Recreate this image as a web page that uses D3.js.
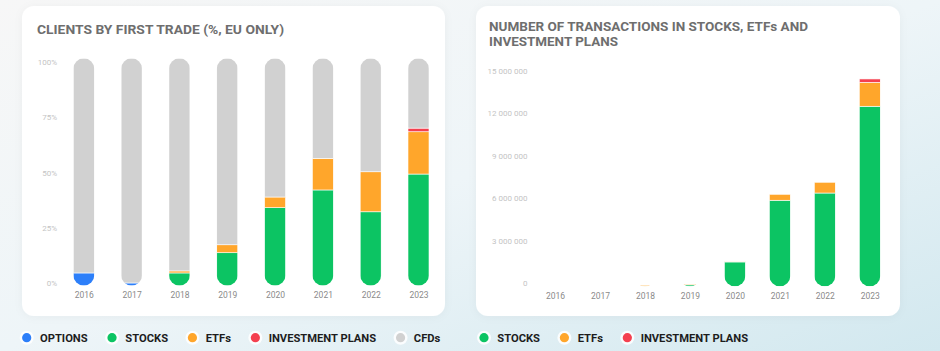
<!DOCTYPE html>
<html>
<head>
<meta charset="utf-8">
<script src="https://cdn.jsdelivr.net/npm/d3@7"></script>
<style>
  html, body { margin: 0; padding: 0; }
  body { width: 940px; height: 351px; overflow: hidden; font-family: Roboto, sans-serif; }
</style>
</head>
<body>
<div id="chart"></div>
<script>
// ---- data ----
var years = ["2016", "2017", "2018", "2019", "2020", "2021", "2022", "2023"];

// clients by first trade, % (EU only)
var shareOptions = [5.6, 1.2, 0, 0, 0, 0, 0, 0];
var shareStocks  = [0, 0, 5.6, 14.5, 34.3, 42.1, 32.5, 49.1];
var shareEtfs    = [0, 0, 0.9, 3.5, 4.7, 13.9, 17.6, 18.6];
var sharePlans   = [0, 0, 0, 0, 0, 0, 0, 1.6];
var shareCfds    = [94.4, 98.8, 93.5, 82.0, 61.0, 44.0, 49.9, 30.7];
var shareTicks   = [0, 25, 50, 75, 100];

// number of transactions
var txStocks = [0, 0, 5000, 100000, 1720000, 6080000, 6590000, 12720000];
var txEtfs   = [0, 0, 70000, 60000, 50000, 420000, 760000, 1690000];
var txPlans  = [0, 0, 0, 0, 0, 0, 0, 240000];
var txTicks  = [0, 3000000, 6000000, 9000000, 12000000, 15000000];

var colors = {
  options: "#2d7ff9",
  stocks: "#0cc463",
  etfs: "#ffa62b",
  plans: "#f4404f",
  cfds: "#d1d1d1"
};

var legendLeft = [
  {name: "OPTIONS", key: "options"},
  {name: "STOCKS", key: "stocks"},
  {name: "ETFs", key: "etfs"},
  {name: "INVESTMENT PLANS", key: "plans"},
  {name: "CFDs", key: "cfds"}
];
var legendRight = [
  {name: "STOCKS", key: "stocks"},
  {name: "ETFs", key: "etfs"},
  {name: "INVESTMENT PLANS", key: "plans"}
];

var W = 940, H = 351, barW = 21, r = barW / 2;

var svg = d3.select("#chart").append("svg")
    .attr("width", W)
    .attr("height", H);

var defs = svg.append("defs");

var bg = defs.append("linearGradient")
    .attr("id", "bg")
    .attr("x1", 0).attr("y1", 0).attr("x2", 1).attr("y2", 1);
bg.append("stop").attr("offset", "0").attr("stop-color", "#f7f7f7");
bg.append("stop").attr("offset", "0.5").attr("stop-color", "#eef5f8");
bg.append("stop").attr("offset", "1").attr("stop-color", "#d2e8ef");

var shadow = defs.append("filter").attr("id", "shadow")
    .attr("x", "-10%").attr("y", "-10%").attr("width", "120%").attr("height", "120%");
shadow.append("feDropShadow")
    .attr("dx", 0).attr("dy", 1)
    .attr("stdDeviation", 4)
    .attr("flood-color", "#000")
    .attr("flood-opacity", 0.04);

svg.append("rect")
    .attr("width", W).attr("height", H)
    .attr("fill", "url(#bg)");

// cards
svg.append("rect")
    .attr("x", 22).attr("y", 6).attr("width", 423).attr("height", 310)
    .attr("rx", 12).attr("fill", "#fff").attr("filter", "url(#shadow)");
svg.append("rect")
    .attr("x", 476).attr("y", 6).attr("width", 424).attr("height", 310)
    .attr("rx", 12).attr("fill", "#fff").attr("filter", "url(#shadow)");

// titles
function title(text, x, y, len) {
  svg.append("text")
      .attr("x", x).attr("y", y)
      .attr("font-family", "Roboto, sans-serif")
      .attr("font-weight", 700)
      .attr("font-size", 13.2)
      .attr("fill", "#6e6e6e")
      .attr("textLength", len)
      .attr("lengthAdjust", "spacingAndGlyphs")
      .text(text);
}
title("CLIENTS BY FIRST TRADE (%, EU ONLY)", 37, 34.3, 247);
title("NUMBER OF TRANSACTIONS IN STOCKS, ETFs AND", 489, 31, 319);
title("INVESTMENT PLANS", 489, 45.7, 129);

function styleAxis(g, size, color) {
  g.select(".domain").remove();
  g.selectAll("text")
      .attr("font-family", "Roboto, sans-serif")
      .attr("font-size", size)
      .attr("fill", color);
}

// stacked capsule bars; clip defines rounded shape, segments fill it
function drawStack(id, x, y, series, topY, roundTop) {
  var g = svg.append("g");
  years.forEach(function(yr, i) {
    var cx = x(yr), bottom = y(0);
    var cp = defs.append("clipPath").attr("id", id + i);
    if (roundTop) {
      cp.append("rect")
          .attr("x", cx - r).attr("y", topY)
          .attr("width", barW).attr("height", bottom - topY)
          .attr("rx", r).attr("ry", r);
    } else {
      cp.append("path")
          .attr("d", "M" + (cx - r) + "," + topY +
                     "V" + (bottom - r) +
                     "A" + r + "," + r + " 0 0 0 " + (cx + r) + "," + (bottom - r) +
                     "V" + topY + "Z");
    }
    var bar = g.append("g").attr("clip-path", "url(#" + id + i + ")");
    var cum = 0;
    series.forEach(function(s) {
      var v = s.values[i];
      if (v <= 0) return;
      bar.append("rect")
          .attr("x", cx - r)
          .attr("y", y(cum + v))
          .attr("width", barW)
          .attr("height", y(cum) - y(cum + v))
          .attr("fill", colors[s.key])
          .attr("stroke", "#fff")
          .attr("stroke-width", 0.6);
      cum += v;
    });
  });
}

// ---- left chart ----
var xL = d3.scalePoint().domain(years).range([83.8, 418.5]);
var yL = d3.scaleLinear().domain([0, 100]).range([285.7, 58.3]);
var yLabL = d3.scaleLinear().domain([0, 100]).range([283, 62]);

svg.append("g")
    .attr("transform", "translate(57,0)")
    .call(d3.axisLeft(yLabL).tickValues(shareTicks).tickSize(0).tickPadding(0)
      .tickFormat(function(d) { return d + "%"; }))
    .call(styleAxis, 8, "#c4c4c4");

drawStack("cl", xL, yL, [
  {key: "options", values: shareOptions},
  {key: "stocks", values: shareStocks},
  {key: "etfs", values: shareEtfs},
  {key: "plans", values: sharePlans},
  {key: "cfds", values: shareCfds}
], yL(100), true);

svg.append("g")
    .attr("transform", "translate(0,292.3)")
    .call(d3.axisBottom(xL).tickSize(0).tickPadding(0))
    .call(styleAxis, 8.5, "#8a8a8a");

// ---- right chart ----
var xR = d3.scalePoint().domain(years).range([555, 869.8]);
var yR = d3.scaleLinear().domain([0, 15000000]).range([286.3, 74]);
var yLabR = d3.scaleLinear().domain([0, 15000000]).range([283, 70.7]);

svg.append("g")
    .attr("transform", "translate(527.5,0)")
    .call(d3.axisLeft(yLabR).tickValues(txTicks).tickSize(0).tickPadding(0)
      .tickFormat(function(d) { return d3.format(",")(d).replace(/,/g, " "); }))
    .call(styleAxis, 8, "#c4c4c4");

drawStack("tx", xR, yR, [
  {key: "stocks", values: txStocks},
  {key: "etfs", values: txEtfs},
  {key: "plans", values: txPlans}
], 60, false);

svg.append("g")
    .attr("transform", "translate(0,292.8)")
    .call(d3.axisBottom(xR).tickSize(0).tickPadding(0))
    .call(styleAxis, 8.5, "#8a8a8a");

// ---- legends ----
function legend(items, startX, y) {
  var cx = startX;
  items.forEach(function(it) {
    var g = svg.append("g");
    g.append("circle").attr("cx", cx).attr("cy", y).attr("r", 7).attr("fill", "#fff").attr("opacity", 0.85);
    g.append("circle").attr("cx", cx).attr("cy", y).attr("r", 4.6).attr("fill", colors[it.key]);
    var t = g.append("text")
        .attr("x", cx + 13.3).attr("y", y)
        .attr("dy", "0.36em")
        .attr("font-family", "Roboto, sans-serif")
        .attr("font-weight", 700)
        .attr("font-size", 11.2)
        .attr("fill", "#1d1d1d")
        .text(it.name);
    cx = cx + 13.3 + t.node().getComputedTextLength() + 24.4;
  });
}
legend(legendLeft, 26.7, 337.7);
legend(legendRight, 484, 337.7);
</script>
</body>
</html>
